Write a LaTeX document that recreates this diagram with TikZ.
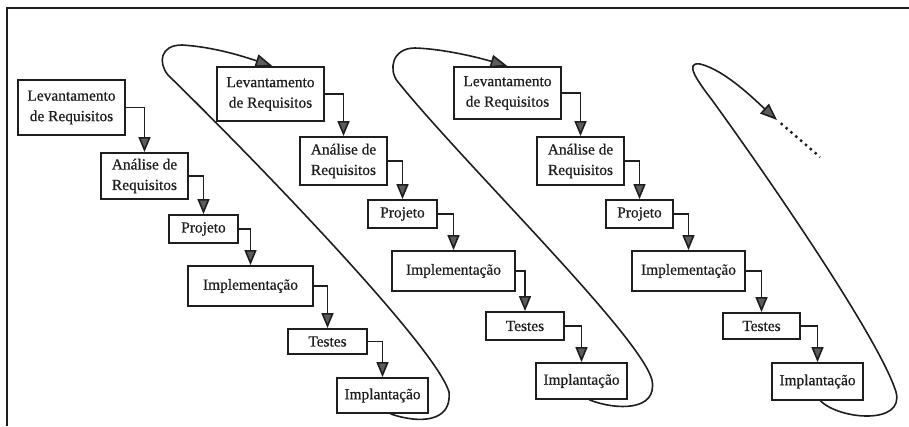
\documentclass[tikz,border=0pt]{standalone}
\usepackage{fontspec}
\setmainfont{Liberation Serif}
\newfontfamily\stagefont{Liberation Serif}[FakeBold=0.6]
\usetikzlibrary{arrows.meta,calc}
\definecolor{ink}{HTML}{1E1E1E}
\definecolor{headfill}{HTML}{5C5C5C}

\begin{document}
\begin{tikzpicture}[x=1pt,y=-1pt,
  stage/.style={draw=ink, line width=1.8pt, fill=white, align=center,
    inner sep=0pt, text=ink, font=\stagefont\fontsize{15.4}{20.5}\selectfont},
  flow/.style={draw=ink, line width=1.6pt,
    -{Triangle[length=15pt,width=12pt,fill=headfill]}},
  loopline/.style={draw=ink, line width=1.6pt,
    -{Triangle[length=17pt,width=13pt,fill=headfill]}},
  trail/.style={draw=ink, line width=2.4pt, dash pattern=on 2.4pt off 4pt},
]
\useasboundingbox (0,0) rectangle (909,426);

% outer frame (top and left edges)
\draw[ink, line width=2pt] (909,8) -- (7,8) -- (7,426);

% ---- first iteration ----
\node[stage, minimum width=107pt, minimum height=55pt] (L1) at (71.5,107.5) {Levantamento\\de Requisitos};
\node[stage, minimum width=87pt,  minimum height=46pt] (A1) at (144.5,176) {Análise de\\Requisitos};
\node[stage, minimum width=69pt,  minimum height=28pt] (P1) at (203.5,229) {Projeto};
\node[stage, minimum width=125pt, minimum height=40pt] (I1) at (250.5,286) {Implementação};
\node[stage, minimum width=79pt,  minimum height=25pt] (T1) at (327.5,341.5) {Testes};
\node[stage, minimum width=91pt,  minimum height=35pt] (M1) at (382.5,395.5) {Implantação};

% ---- second iteration ----
\node[stage, minimum width=107pt, minimum height=54pt] (L2) at (270.5,94) {Levantamento\\de Requisitos};
\node[stage, minimum width=87pt,  minimum height=48pt] (A2) at (343.5,161) {Análise de\\Requisitos};
\node[stage, minimum width=69pt,  minimum height=28pt] (P2) at (402.5,214) {Projeto};
\node[stage, minimum width=123pt, minimum height=40pt] (I2) at (453.5,271) {Implementação};
\node[stage, minimum width=78pt,  minimum height=28pt] (T2) at (525,326) {Testes};
\node[stage, minimum width=91pt,  minimum height=36pt] (M2) at (581.5,381) {Implantação};

% ---- third iteration ----
\node[stage, minimum width=107pt, minimum height=52pt] (L3) at (507.5,93) {Levantamento\\de Requisitos};
\node[stage, minimum width=87pt,  minimum height=48pt] (A3) at (580.5,161) {Análise de\\Requisitos};
\node[stage, minimum width=67pt,  minimum height=28pt] (P3) at (639.5,214) {Projeto};
\node[stage, minimum width=113pt, minimum height=40pt] (I3) at (688.5,271) {Implementação};
\node[stage, minimum width=77pt,  minimum height=26pt] (T3) at (761.5,326) {Testes};
\node[stage, minimum width=91pt,  minimum height=37pt] (M3) at (817.5,381.5) {Implantação};

% cascading steps inside each iteration
\foreach \k in {1,2,3} {
  \draw[flow] (L\k.east) -| (A\k.north);
  \draw[flow] (A\k.east) -| (P\k.north);
  \draw[flow] (P\k.east) -| (I\k.north);
  \draw[flow] (I\k.east) -| (T\k.north);
  \draw[flow] (T\k.east) -| (M\k.north);
}

% loops feeding each iteration into the next one
\draw[loopline] ($(M1.south)+(8,0)$)
  .. controls (420,424) and (452,422) .. (449,392)
  .. controls (435,345) and (245,150) .. (168,75)
  .. controls (158,63) and (160,45) .. (182,45)
  .. controls (215,47) and (245,57) .. ($(L2.north)+(2,0)$);

\draw[loopline] ($(M2.south)+(8,0)$)
  .. controls (615,410) and (658,412) .. (652,380)
  .. controls (640,335) and (465,165) .. (398,82)
  .. controls (388,70) and (392,48) .. (415,48)
  .. controls (445,49) and (480,58) .. (L3.north);

\coordinate (next) at (777,120);
\coordinate (nextend) at (820,157);
\draw[loopline] ($(M3.south)+(3,0)$)
  .. controls (840,420) and (905,425) .. (896,392)
  .. controls (880,340) and (770,180) .. (712,100)
  .. controls (695,78) and (685,62) .. (700,64)
  .. controls (725,70) and (755,100) .. (next);
\draw[trail, shorten <=5pt] (next) -- (nextend);
\end{tikzpicture}
\end{document}
